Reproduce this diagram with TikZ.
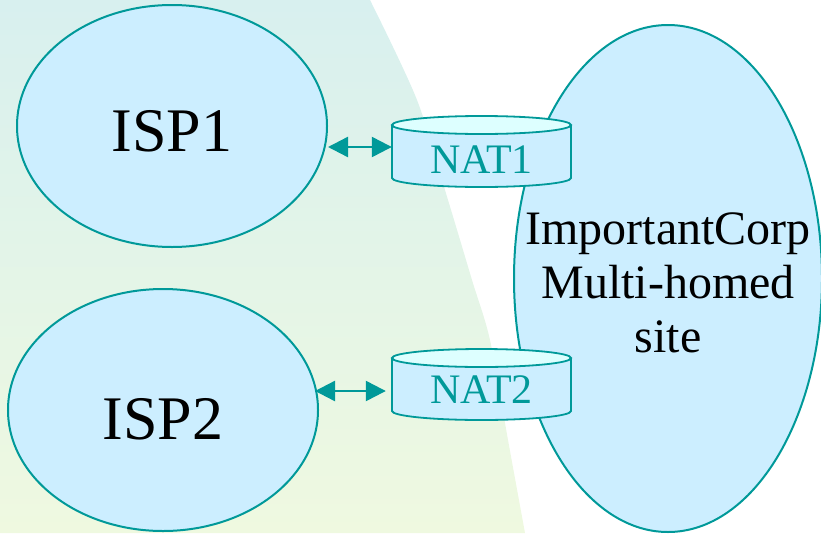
\documentclass[tikz,border=0pt]{standalone}
\usepackage{fontspec}
\setmainfont{Liberation Serif}
\usetikzlibrary{shapes.geometric,arrows.meta}
\definecolor{teal}{HTML}{009999}
\definecolor{cloud}{HTML}{CCEEFF}
\definecolor{captop}{HTML}{DDFFFF}
\definecolor{bgtop}{HTML}{D8F0EF}
\definecolor{bgbot}{HTML}{EFF9E0}
\tikzset{
  blob/.style={ellipse, draw=teal, fill=cloud, line width=2pt, inner sep=0pt},
  isptext/.style={font=\fontsize{62}{70}\selectfont, text=black, inner sep=0pt},
  nattext/.style={font=\fontsize{42}{46}\selectfont, text=teal, inner sep=0pt, minimum width=179pt},
  cyl/.style={draw=teal, line width=1.8pt},
  link/.style={teal, line width=2.4pt, {Triangle[length=20pt,width=20pt]}-{Triangle[length=20pt,width=20pt]}}
}
\begin{document}
\begin{tikzpicture}[x=1pt,y=-1pt]
\useasboundingbox (0,0) rectangle (821,533);
% background region
\shade[top color=bgtop, bottom color=bgbot]
  (0,0) -- plot[smooth] coordinates {(370,0) (417,100) (448,200) (472,280) (490,340) (508,440) (525,533)} -- (0,533) -- cycle;
% ISP ellipses
\node[blob, minimum width=310pt, minimum height=242pt] (isp1) at (172,126) {};
\node[isptext] (isp1t) at (172,131) {ISP1};
\node[blob, minimum width=310pt, minimum height=242pt] (isp2) at (163,410) {};
\node[isptext] (isp2t) at (163,419) {ISP2};
% big site ellipse
\node[blob, minimum width=308pt, minimum height=507pt] (site) at (668,278.5) {};
\node[align=center, font=\fontsize{48}{54}\selectfont, inner sep=0pt] (sitet) at (668,283) {ImportantCorp\\Multi-homed\\site};
% NAT1 cylinder
\fill[cloud] (392,125) -- (392,178) arc[start angle=180, end angle=360, x radius=89.5pt, y radius=9pt] -- (571,125) -- cycle;
\draw[cyl] (392,125) -- (392,178) arc[start angle=180, end angle=360, x radius=89.5pt, y radius=9pt] -- (571,125);
\draw[cyl, fill=captop] (481.5,125) ellipse[x radius=89.5pt, y radius=9pt];
\node[nattext] (nat1) at (481.5,160) {NAT1};
% NAT2 cylinder
\fill[cloud] (392,358) -- (392,411) arc[start angle=180, end angle=360, x radius=89.5pt, y radius=9pt] -- (571,358) -- cycle;
\draw[cyl] (392,358) -- (392,411) arc[start angle=180, end angle=360, x radius=89.5pt, y radius=9pt] -- (571,358);
\draw[cyl, fill=captop] (481.5,358) ellipse[x radius=89.5pt, y radius=9pt];
\node[nattext] (nat2) at (481.5,390) {NAT2};
% connectors
\draw[link] ([yshift=13pt]nat1.west -| isp1.east) -- ([yshift=13pt]nat1.west);
\draw[link, shorten <=-4pt, shorten >=6pt] ([yshift=-1pt]nat2.west -| isp2.east) -- ([yshift=-1pt]nat2.west);
\end{tikzpicture}
\end{document}
